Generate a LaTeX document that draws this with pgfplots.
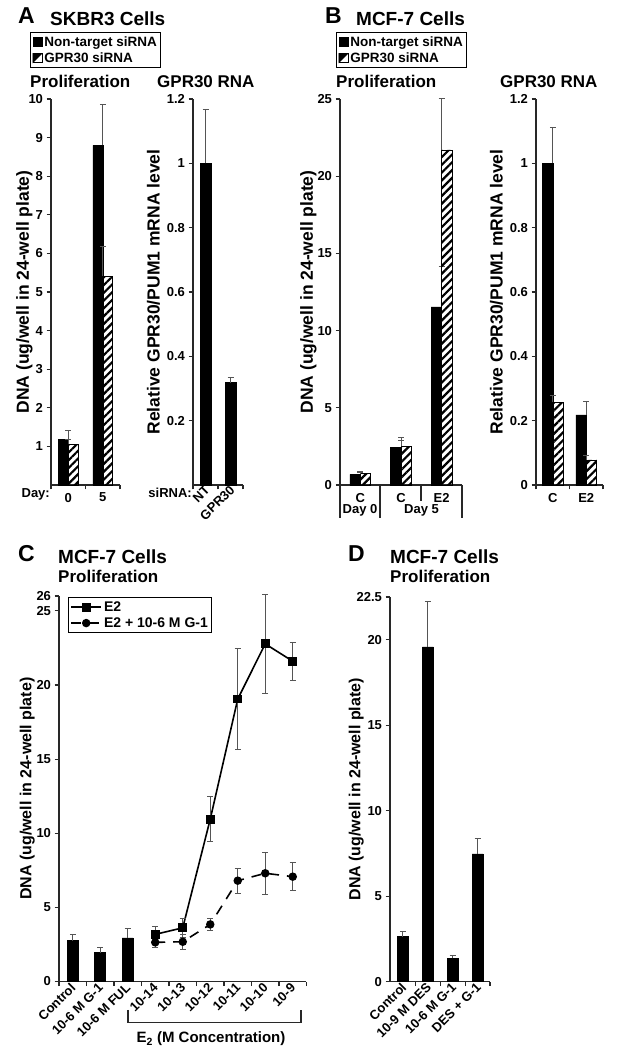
\documentclass[border=0pt]{standalone}
\usepackage{fontspec}
\setmainfont{Liberation Sans}
\usepackage{pgfplots}
\pgfplotsset{compat=1.18}
\usetikzlibrary{patterns.meta}
\definecolor{errgray}{RGB}{85,85,85}
\definecolor{axgray}{RGB}{40,40,40}
\newcommand{\fs}[1]{\fontsize{#1}{#1}\selectfont\bfseries}

\pgfplotsset{
  panel/.style={
    scale only axis, clip=false,
    axis x line*=bottom, axis y line*=left,
    axis line style={-, line width=1.2pt, axgray},
    tick align=outside,
    major tick length=4.5pt, minor tick length=4.5pt,
    tick style={line width=1.1pt, axgray},
    tick label style={font=\fs{13}},
    /pgf/number format/assume math mode=true,
    ylabel style={font=\fs{16}},
    major x tick style={draw=none},
  },
  biglabel/.style={ylabel style={font=\fs{17.5}}},
  barerr/.style={/pgfplots/error bars/y dir=plus, /pgfplots/error bars/y explicit,
    /pgfplots/error bars/error bar style={line width=1pt, errgray, solid},
    /pgfplots/error bars/error mark options={rotate=90, mark size=3pt, line width=1pt, errgray, solid}},
  pterr/.style={/pgfplots/error bars/y dir=both, /pgfplots/error bars/y explicit,
    /pgfplots/error bars/error bar style={line width=1pt, errgray, solid},
    /pgfplots/error bars/error mark options={rotate=90, mark size=3pt, line width=1pt, errgray, solid}},
  solidbar/.style={ybar, fill=black, draw=black, line width=0.5pt},
  hatchbar/.style={ybar, draw=black, line width=0.8pt, pattern={Lines[angle=45,distance=5.5pt,line width=2.2pt]}},
  sqleg/.style={legend image code/.code={\draw[fill=black, draw=black, line width=0.6pt] (0pt,-4.5pt) rectangle (9pt,4.5pt);}},
  hatchleg/.style={legend image code/.code={\draw[fill=white, draw=black, line width=0.6pt] (0pt,-4.5pt) rectangle (9pt,4.5pt); \fill[black] (0pt,-4.5pt) -- (0pt,4.5pt) -- (9pt,4.5pt) -- cycle;}},
  barlegend/.style={legend style={draw=black, line width=1pt, font=\fs{13.5}, anchor=north west, inner sep=2pt, row sep=0.5pt}, legend cell align=left},
}

\begin{document}
\begin{tikzpicture}
\path[use as bounding box] (0,0) rectangle (622pt,1050pt);

% ---------------- Panel A: Proliferation
\begin{axis}[panel, biglabel, at={(51pt,565pt)}, anchor=south west, width=69pt, height=386pt,
  xmin=0, xmax=2, ymin=0, ymax=10, ytick={1,2,3,4,5,6,7,8,9,10},
  xtick={0.5,1.5}, xticklabels={0,5}, minor xtick={0,1,2},
  ylabel={DNA (ug/well in 24-well plate)}, ylabel shift=-11pt,
  barlegend, legend style={at={(-0.3043,1.1736)}}]
\addplot[solidbar, bar width=10pt, bar shift=-5pt, sqleg, barerr] coordinates {(0.5,1.18) +- (0,0.24) (1.5,8.8) +- (0,1.05)};
\addplot[hatchbar, bar width=10pt, bar shift=5pt, hatchleg, barerr] coordinates {(0.5,1.05) +- (0,0.14) (1.5,5.41) +- (0,0.76)};
\legend{Non-target siRNA, GPR30 siRNA}
\end{axis}

% ---------------- Panel A: GPR30 RNA
\begin{axis}[panel, biglabel, at={(193pt,565pt)}, anchor=south west, width=50pt, height=386pt,
  xmin=-0.5, xmax=1.5, ymin=0, ymax=1.2, ytick={0.2,0.4,0.6,0.8,1,1.2},
  xtick={0,1}, xticklabels={NT,GPR30}, minor xtick={-0.5,0.5,1.5},
  xticklabel style={rotate=45, anchor=east, xshift=6pt},
  ylabel={Relative GPR30/PUM1 mRNA level}]
\addplot[solidbar, bar width=11pt, barerr] coordinates {(0,1.0) +- (0,0.168) (1,0.318) +- (0,0.016)};
\end{axis}

% ---------------- Panel B: Proliferation
\begin{axis}[panel, biglabel, at={(340pt,565pt)}, anchor=south west, width=122pt, height=386pt,
  xmin=0, xmax=3, ymin=0, ymax=25, ytick={0,5,10,15,20,25},
  xtick={0.5,1.5,2.5}, xticklabels={C,C,E2}, minor xtick={0,1,2,3},
  ylabel={DNA (ug/well in 24-well plate)}, ylabel shift=-6pt,
  barlegend, legend style={at={(-0.0328,1.1736)}}]
\addplot[solidbar, bar width=10.5pt, bar shift=-5.25pt, sqleg, barerr] coordinates {(0.5,0.69) +- (0,0.13) (1.5,2.46) +- (0,0.41) (2.5,11.53) +- (0,2.65)};
\addplot[hatchbar, bar width=10.5pt, bar shift=5.25pt, hatchleg, barerr] coordinates {(0.5,0.73) +- (0,0.13) (1.5,2.5) +- (0,0.56) (2.5,21.7) +- (0,3.3)};
\legend{Non-target siRNA, GPR30 siRNA}
\end{axis}

% ---------------- Panel B: GPR30 RNA
\begin{axis}[panel, biglabel, at={(536pt,565pt)}, anchor=south west, width=67pt, height=386pt,
  xmin=0, xmax=2, ymin=0, ymax=1.2, ytick={0,0.2,0.4,0.6,0.8,1,1.2},
  xtick={0.5,1.5}, xticklabels={C,E2}, minor xtick={0,1,2},
  ylabel={Relative GPR30/PUM1 mRNA level}]
\addplot[solidbar, bar width=10.5pt, bar shift=-5.25pt, barerr] coordinates {(0.5,1.0) +- (0,0.11) (1.5,0.218) +- (0,0.042)};
\addplot[hatchbar, bar width=10.5pt, bar shift=5.25pt, barerr] coordinates {(0.5,0.258) +- (0,0.019) (1.5,0.078) +- (0,0.015)};
\end{axis}

% ---------------- Panel C
\begin{axis}[panel, at={(59pt,68.5pt)}, anchor=south west, width=247.5pt, height=385.5pt,
  xmin=-0.5, xmax=8.5, ymin=0, ymax=26, ytick={0,5,10,15,20,25,26},
  xtick={0,1,2,3,4,5,6,7,8},
  xticklabels={Control,10-6 M G-1,10-6 M FUL,10-14,10-13,10-12,10-11,10-10,10-9},
  xticklabel style={rotate=45, anchor=east, xshift=4pt},
  minor xtick={-0.5,0.5,1.5,2.5,3.5,4.5,5.5,6.5,7.5,8.5},
  ylabel={DNA (ug/well in 24-well plate)}, ylabel shift=-5pt,
  legend style={at={(0.036,0.997)}, anchor=north west, draw=black, line width=1pt, font=\fs{14}, inner sep=2pt, row sep=0.5pt},
  legend cell align=left,
  legend image code/.code={\draw[mark repeat=2, mark phase=2, #1] plot coordinates {(0pt,0pt) (15pt,0pt) (30pt,0pt)};}]
\addplot[solidbar, bar width=11pt, forget plot, barerr] coordinates {(0,2.75) +- (0,0.43) (1,1.94) +- (0,0.34) (2,2.95) +- (0,0.61)};
\addplot[black, line width=1.6pt, mark=square*, mark size=3.6pt, mark options={solid}, pterr] coordinates {
  (3,3.18) +- (0,0.51) (4,3.62) +- (0,0.64) (5,10.95) +- (0,1.5) (6,19.05) +- (0,3.4) (7,22.77) +- (0,3.35) (8,21.6) +- (0,1.28)};
\addplot[black, line width=1.6pt, dash pattern=on 10pt off 8pt, mark=*, mark size=3.4pt, mark options={solid}, pterr] coordinates {
  (3,2.64) +- (0,0.37) (4,2.68) +- (0,0.5) (5,3.85) +- (0,0.42) (6,6.8) +- (0,0.85) (7,7.3) +- (0,1.4) (8,7.07) +- (0,0.93)};
\legend{E2, E2 + 10-6 M G-1}
\end{axis}

% ---------------- Panel D
\begin{axis}[panel, at={(390pt,68.3pt)}, anchor=south west, width=100pt, height=384.7pt,
  xmin=-0.52, xmax=3.5, ymin=0, ymax=22.5, ytick={0,5,10,15,20,22.5},
  xtick={0,1,2,3}, xticklabels={Control,10-9 M DES,10-6 M G-1,DES + G-1},
  xticklabel style={rotate=45, anchor=east, xshift=5pt},
  minor xtick={0.5,1.5,2.5,3.5},
  ylabel={DNA (ug/well in 24-well plate)}, ylabel shift=-14pt]
\addplot[solidbar, bar width=11pt, barerr] coordinates {(0,2.63) +- (0,0.29) (1,19.59) +- (0,2.63) (2,1.37) +- (0,0.19) (3,7.47) +- (0,0.92)};
\end{axis}

% ---------------- titles and annotations
\node[anchor=base west, inner sep=0, font=\fs{23}] at (18pt,1026.5pt) {A};
\node[anchor=base west, inner sep=0, font=\fs{19}] at (50pt,1024pt) {SKBR3 Cells};
\node[anchor=base west, inner sep=0, font=\fs{23}] at (325pt,1026.5pt) {B};
\node[anchor=base west, inner sep=0, font=\fs{19}] at (356pt,1024pt) {MCF-7 Cells};
\node[anchor=base west, inner sep=0, font=\fs{17}] at (30pt,962pt) {Proliferation};
\node[anchor=base west, inner sep=0, font=\fs{17}] at (157pt,962pt) {GPR30 RNA};
\node[anchor=base west, inner sep=0, font=\fs{17}] at (336pt,962pt) {Proliferation};
\node[anchor=base west, inner sep=0, font=\fs{17}] at (500pt,962pt) {GPR30 RNA};

\node[anchor=base west, inner sep=0, font=\fs{23}] at (18pt,488pt) {C};
\node[anchor=base west, inner sep=0, font=\fs{19}] at (58pt,486pt) {MCF-7 Cells};
\node[anchor=base west, inner sep=0, font=\fs{17}] at (58pt,467pt) {Proliferation};
\node[anchor=base west, inner sep=0, font=\fs{23}] at (348pt,488pt) {D};
\node[anchor=base west, inner sep=0, font=\fs{19}] at (390pt,486pt) {MCF-7 Cells};
\node[anchor=base west, inner sep=0, font=\fs{17}] at (390pt,467pt) {Proliferation};

\node[anchor=base east, inner sep=0, font=\fs{13}] at (50pt,552pt) {Day:};
\node[anchor=base east, inner sep=0, font=\fs{13}] at (192pt,552pt) {siRNA:};
\node[anchor=base, inner sep=0, font=\fs{13}] at (360pt,536pt) {Day 0};
\node[anchor=base, inner sep=0, font=\fs{13}] at (421.5pt,536pt) {Day 5};
\draw[line width=1.1pt, axgray] (340pt,565pt) -- (340pt,532pt);
\draw[line width=1.1pt, axgray] (380pt,565pt) -- (380pt,532pt);
\draw[line width=1.1pt, axgray] (462pt,565pt) -- (462pt,532pt);
\draw[line width=1.1pt, axgray] (421pt,565pt) -- (421pt,549pt);

\draw[line width=1.1pt, axgray] (128pt,40pt) -- (128pt,27.3pt) -- (301pt,27.3pt) -- (301pt,40pt);
\node[anchor=base, inner sep=0, font=\fs{15}] at (211pt,7pt) {E\textsubscript{2} (M Concentration)};
\end{tikzpicture}
\end{document}
